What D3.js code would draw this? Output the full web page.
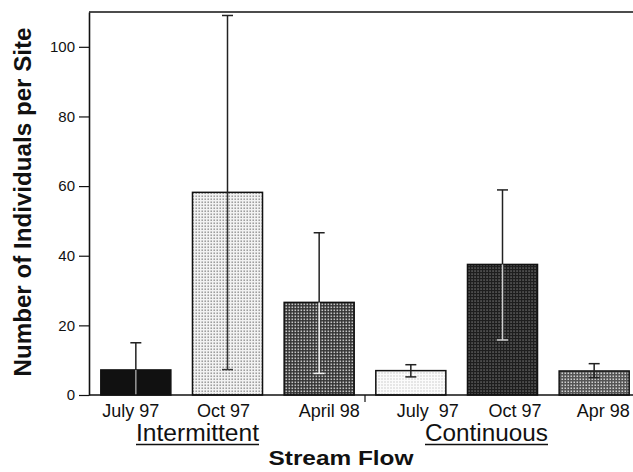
<!DOCTYPE html>
<html>
<head>
<meta charset="utf-8">
<script src="https://cdn.jsdelivr.net/npm/d3@7"></script>
<style>
  html, body { margin: 0; padding: 0; background: #fff; overflow: hidden; }
  svg { display: block; font-family: "Liberation Sans", Arial, Helvetica, sans-serif; }
</style>
</head>
<body>
<svg id="chart" width="633" height="472"></svg>
<script>
// ---- data ----
const categories = ["July 97", "Oct 97", "April 98", "July  97", "Oct 97 ", "Apr 98"];
const groups = ["Intermittent", "Intermittent", "Intermittent", "Continuous", "Continuous", "Continuous"];
const groupNames = ["Intermittent", "Continuous"];
const means = [7.2, 58.2, 26.6, 7.0, 37.5, 6.9];
const upperErr = [15.0, 109.0, 46.6, 8.7, 58.9, 9.0];
const lowerErr = [0, 7.3, 6.2, 5.2, 15.8, 5.0];
const yTicks = [0, 20, 40, 60, 80, 100];

// ---- styles (kept apart from data) ----
const fillBg   = ["#111111", "#f2f2f2", "#333333", "#fbfbfb", "#1e1e1e", "#555555"];
const fillDot  = ["#111111", "#8a8a8a", "#c4c4c4", "#a8a8a8", "#a0a0a0", "#d0d0d0"];
const dotSize  = [1, 1.4, 1.6, 1, 1.1, 1.5];
const innerErrColor = ["#9a9a9a", "#333333", "#f2f2f2", "#222222", "#cfcfcf", "#222222"];
const labelShift = [-5, -4, 10, 17, 15, 9];
const groupShift = [-30, -16];

const W = 633, H = 472;
const svg = d3.select("#chart");

const x = d3.scaleBand().domain(categories).range([90, 640]).paddingInner(0.236).paddingOuter(0.118);
const y = d3.scaleLinear().domain([0, 110]).range([395, 12]);

// patterns
const defs = svg.append("defs");
categories.forEach((c, i) => {
  const p = defs.append("pattern").attr("id", "pat" + i)
    .attr("width", 3).attr("height", 3).attr("patternUnits", "userSpaceOnUse");
  p.append("rect").attr("width", 3).attr("height", 3).attr("fill", fillBg[i]);
  p.append("rect").attr("x", 0.5).attr("y", 0.5).attr("width", dotSize[i]).attr("height", dotSize[i]).attr("fill", fillDot[i]);
});

// frame: top line
svg.append("line").attr("x1", 89).attr("x2", W).attr("y1", y(110)).attr("y2", y(110))
  .attr("stroke", "#111").attr("stroke-width", 1.6);

// bars
const data = categories.map((c, i) => ({ c, i, m: means[i], hi: upperErr[i], lo: lowerErr[i] }));
svg.append("g").selectAll("rect").data(data).join("rect")
  .attr("x", d => x(d.c)).attr("width", x.bandwidth())
  .attr("y", d => y(d.m)).attr("height", d => y(0) - y(d.m))
  .attr("fill", d => `url(#pat${d.i})`)
  .attr("stroke", "#111").attr("stroke-width", 1.5);

// error bars
const eg = svg.append("g");
const capW = 11;
data.forEach(d => {
  const cx = x(d.c) + x.bandwidth() / 2;
  eg.append("line").attr("x1", cx).attr("x2", cx).attr("y1", y(d.hi)).attr("y2", y(d.m))
    .attr("stroke", "#222").attr("stroke-width", 1.5);
  eg.append("line").attr("x1", cx - capW / 2).attr("x2", cx + capW / 2).attr("y1", y(d.hi)).attr("y2", y(d.hi))
    .attr("stroke", "#222").attr("stroke-width", 1.5);
  eg.append("line").attr("x1", cx).attr("x2", cx).attr("y1", y(d.m)).attr("y2", y(d.lo))
    .attr("stroke", innerErrColor[d.i]).attr("stroke-width", 1.5);
  if (d.lo > 0) {
    eg.append("line").attr("x1", cx - capW / 2).attr("x2", cx + capW / 2).attr("y1", y(d.lo)).attr("y2", y(d.lo))
      .attr("stroke", innerErrColor[d.i]).attr("stroke-width", 1.5);
  }
});

// y axis
const yAxis = svg.append("g").attr("transform", "translate(89,0)")
  .call(d3.axisLeft(y).tickValues(yTicks).tickSize(10).tickSizeOuter(0).tickPadding(4));
yAxis.select(".domain").attr("stroke", "#111").attr("stroke-width", 1.6);
yAxis.selectAll(".tick line").attr("stroke", "#111").attr("stroke-width", 1.2);
yAxis.selectAll(".tick text").attr("font-size", 15).attr("fill", "#111")
  .attr("font-family", "Liberation Sans, Arial, sans-serif");

// x axis
const xAxis = svg.append("g").attr("transform", "translate(0,395)")
  .call(d3.axisBottom(x).tickSize(0).tickPadding(9).tickSizeOuter(0));
xAxis.select(".domain").attr("d", `M89,0H${W}`).attr("stroke", "#111").attr("stroke-width", 1.6);
xAxis.selectAll(".tick text").attr("font-size", 18).attr("fill", "#111")
  .attr("font-family", "Liberation Sans, Arial, sans-serif")
  .style("white-space", "pre")
  .attr("dx", (d, i) => labelShift[i]);

// separator tick between groups
const sepX = (x(categories[2]) + x.bandwidth() + x(categories[3])) / 2;
svg.append("line").attr("x1", sepX).attr("x2", sepX).attr("y1", 395).attr("y2", 402)
  .attr("stroke", "#111").attr("stroke-width", 1.2);

// group labels (underlined)
const groupCenters = groupNames.map(g => {
  const cs = categories.filter((c, i) => groups[i] === g);
  return (x(cs[0]) + x(cs[cs.length - 1]) + x.bandwidth()) / 2;
});
groupNames.forEach((g, i) => {
  const cx = groupCenters[i] + groupShift[i];
  svg.append("text").attr("x", cx).attr("y", 441)
    .attr("text-anchor", "middle").attr("font-size", 23).attr("fill", "#111")
    .attr("textLength", 123).attr("lengthAdjust", "spacingAndGlyphs")
    .text(g);
  svg.append("line").attr("x1", cx - 61.5).attr("x2", cx + 61.5).attr("y1", 444.5).attr("y2", 444.5)
    .attr("stroke", "#111").attr("stroke-width", 1.3);
});

// axis titles
svg.append("text").attr("x", 341).attr("y", 465).attr("text-anchor", "middle")
  .attr("font-size", 21).attr("font-weight", "bold").attr("fill", "#111")
  .attr("textLength", 145).attr("lengthAdjust", "spacingAndGlyphs")
  .text("Stream Flow");

svg.append("text").attr("transform", "translate(31,202) rotate(-90)")
  .attr("text-anchor", "middle").attr("font-size", 23).attr("font-weight", "bold").attr("fill", "#111")
  .attr("textLength", 349).attr("lengthAdjust", "spacingAndGlyphs")
  .text("Number of Individuals per Site");
</script>
</body>
</html>
